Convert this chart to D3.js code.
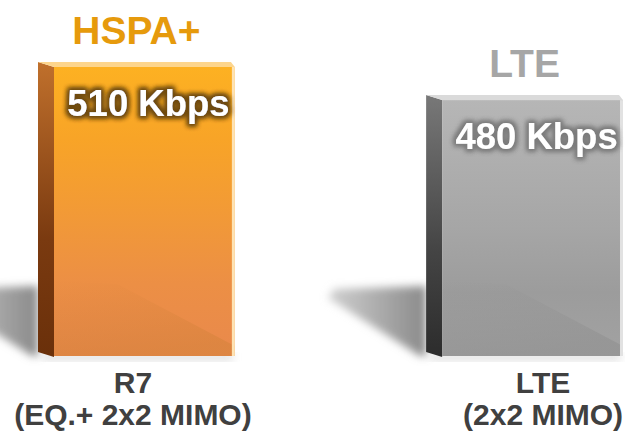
<!DOCTYPE html>
<html>
<head>
<meta charset="utf-8">
<script src="https://cdn.jsdelivr.net/npm/d3@7/dist/d3.min.js"></script>
<style>
  html, body { margin: 0; padding: 0; background: #ffffff; }
  svg { display: block; }
  text { font-family: "Liberation Sans", Arial, sans-serif; font-weight: bold; }
</style>
</head>
<body>
<svg id="chart" width="625" height="431"></svg>
<script>
// ---- data ----
const categories = ["HSPA+", "LTE"];
const values = [510, 480];
const valueLabels = ["510 Kbps", "480 Kbps"];
const subLabelLine1 = ["R7", "LTE"];
const subLabelLine2 = ["(EQ.+ 2x2 MIMO)", "(2x2 MIMO)"];

// ---- styles ----
const themes = [
  { title: "#E69A0C", frontStops: ["#FDB122", "#F8A427", "#F29A36", "#EC8F45", "#E9894C"],
    side: ["#C0702C", "#7A3A10", "#6A300A"], top: "#FDD58C", edge: "#FEE3B4", glow: "#6E4A12", shadeDark: "#D4823A" },
  { title: "#A6A6A6", frontStops: ["#B6B6B6", "#AEAEAE", "#A6A6A6", "#9C9C9C", "#A2A2A2"],
    side: ["#787878", "#444444", "#2C2C2C"], top: "#DADADA", edge: "#E2E2E2", glow: "#7C7C7C", shadeDark: "#8E8E8E" }
];
const labelOffsets = [-3.5, 18.5];

const svg = d3.select("#chart");

const x = d3.scaleBand().domain(categories).range([54, 623]).paddingInner(0.534).paddingOuter(0);
const y = d3.scaleLinear().domain([248, 510]).range([356, 67]);

const dx = 16, dy = 5;
const defs = svg.append("defs");

const blur = defs.append("filter").attr("id", "shadowBlur").attr("x", "-30%").attr("y", "-30%").attr("width", "160%").attr("height", "160%");
blur.append("feGaussianBlur").attr("stdDeviation", 4);

themes.forEach((t, i) => {
  const fg = defs.append("linearGradient").attr("id", "front" + i).attr("x1", 0).attr("y1", 0).attr("x2", 0).attr("y2", 1);
  t.frontStops.forEach((c, k) => fg.append("stop").attr("offset", (k / (t.frontStops.length - 1) * 100) + "%").attr("stop-color", c));
  const sg = defs.append("linearGradient").attr("id", "side" + i).attr("x1", 0).attr("y1", 0).attr("x2", 0).attr("y2", 1);
  sg.append("stop").attr("offset", "0%").attr("stop-color", t.side[0]);
  sg.append("stop").attr("offset", "60%").attr("stop-color", t.side[1]);
  sg.append("stop").attr("offset", "100%").attr("stop-color", t.side[2]);
  const dg = defs.append("linearGradient").attr("id", "diag" + i).attr("x1", 0).attr("y1", 0).attr("x2", 0.25).attr("y2", 1);
  dg.append("stop").attr("offset", "0%").attr("stop-color", t.shadeDark).attr("stop-opacity", 0);
  dg.append("stop").attr("offset", "100%").attr("stop-color", t.shadeDark).attr("stop-opacity", 0.55);
  const f = defs.append("filter").attr("id", "glow" + i).attr("x", "-20%").attr("y", "-40%").attr("width", "140%").attr("height", "180%");
  f.append("feMorphology").attr("in", "SourceAlpha").attr("operator", "dilate").attr("radius", 1.8).attr("result", "d");
  f.append("feGaussianBlur").attr("in", "d").attr("stdDeviation", 2.8).attr("result", "b");
  f.append("feFlood").attr("flood-color", t.glow).attr("result", "c");
  f.append("feComposite").attr("in", "c").attr("in2", "b").attr("operator", "in").attr("result", "g");
  const m = f.append("feMerge");
  m.append("feMergeNode").attr("in", "g");
  m.append("feMergeNode").attr("in", "g");
  m.append("feMergeNode").attr("in", "SourceGraphic");
});
const shg = defs.append("linearGradient").attr("id", "shadowGrad").attr("x1", 0).attr("y1", 0).attr("x2", 1).attr("y2", 0);
shg.append("stop").attr("offset", "0%").attr("stop-color", "#d0d0d0");
shg.append("stop").attr("offset", "100%").attr("stop-color", "#8a8a8a");

const data = categories.map((c, i) => ({ c, v: values[i], i }));
const base = y.range()[0];

// cast shadows
svg.append("g").selectAll("polygon").data(data).join("polygon")
  .attr("points", d => {
    const bx = x(d.c) - dx;
    return [[bx, base - 70], [bx - 92, base - 67], [bx - 98, base - 58], [bx - 6, base], [bx, base]].map(p => p.join(",")).join(" ");
  })
  .attr("fill", "url(#shadowGrad)")
  .attr("filter", "url(#shadowBlur)");

// soft ground shadow under boxes
svg.append("g").selectAll("rect").data(data).join("rect")
  .attr("x", d => x(d.c) - dx + 4).attr("y", base - 2)
  .attr("width", x.bandwidth() + dx - 6).attr("height", 6)
  .attr("fill", "#c8c8c8").attr("filter", "url(#shadowBlur)").attr("opacity", 0.7);

const boxes = svg.append("g").selectAll("g").data(data).join("g");

boxes.append("polygon")
  .attr("points", d => {
    const fx = x(d.c), ft = y(d.v);
    return [[fx - dx, ft - dy], [fx, ft], [fx, base + 1], [fx - dx, base - 4]].map(p => p.join(",")).join(" ");
  })
  .attr("fill", d => "url(#side" + d.i + ")");

boxes.append("polygon")
  .attr("points", d => {
    const fx = x(d.c), ft = y(d.v), fw = x.bandwidth();
    return [[fx - dx, ft - dy], [fx + fw - 4, ft - dy], [fx + fw, ft], [fx, ft]].map(p => p.join(",")).join(" ");
  })
  .attr("fill", d => themes[d.i].top);

boxes.append("rect")
  .attr("x", d => x(d.c)).attr("y", d => y(d.v))
  .attr("width", x.bandwidth()).attr("height", d => base - y(d.v))
  .attr("fill", d => "url(#front" + d.i + ")");

boxes.append("polygon")
  .attr("points", d => {
    const fx = x(d.c), fw = x.bandwidth();
    return [[fx, base - 75], [fx + fw * 0.35, base - 72], [fx + fw, base - 10], [fx + fw, base], [fx, base]].map(p => p.join(",")).join(" ");
  })
  .attr("fill", d => "url(#diag" + d.i + ")");

boxes.append("rect")
  .attr("x", d => x(d.c) + x.bandwidth() - 3).attr("y", d => y(d.v))
  .attr("width", 3).attr("height", d => base - y(d.v))
  .attr("fill", d => themes[d.i].edge);

// titles
svg.append("g").selectAll("text").data(data).join("text")
  .attr("x", d => x(d.c) - dx / 2 + x.bandwidth() / 2)
  .attr("y", d => y(d.v) - 23)
  .attr("text-anchor", "middle")
  .attr("font-size", 39)
  .attr("fill", d => themes[d.i].title)
  .text(d => d.c);

// value labels
svg.append("g").selectAll("text").data(data).join("text")
  .attr("x", d => x(d.c) + x.bandwidth() / 2 + 4)
  .attr("y", d => y(d.v) + 49)
  .attr("text-anchor", "middle")
  .attr("font-size", 36.5)
  .attr("fill", "#ffffff")
  .attr("filter", d => "url(#glow" + d.i + ")")
  .text(d => valueLabels[d.i]);

// category labels
const cl = svg.append("g").selectAll("text").data(data).join("text")
  .attr("text-anchor", "middle")
  .attr("font-size", 30)
  .attr("fill", "#404040");
cl.append("tspan")
  .attr("x", d => x(d.c) - dx / 2 + x.bandwidth() / 2 + labelOffsets[d.i])
  .attr("y", base + 37)
  .text(d => subLabelLine1[d.i]);
cl.append("tspan")
  .attr("x", d => x(d.c) - dx / 2 + x.bandwidth() / 2 + labelOffsets[d.i])
  .attr("y", base + 69)
  .text(d => subLabelLine2[d.i]);
</script>
</body>
</html>
